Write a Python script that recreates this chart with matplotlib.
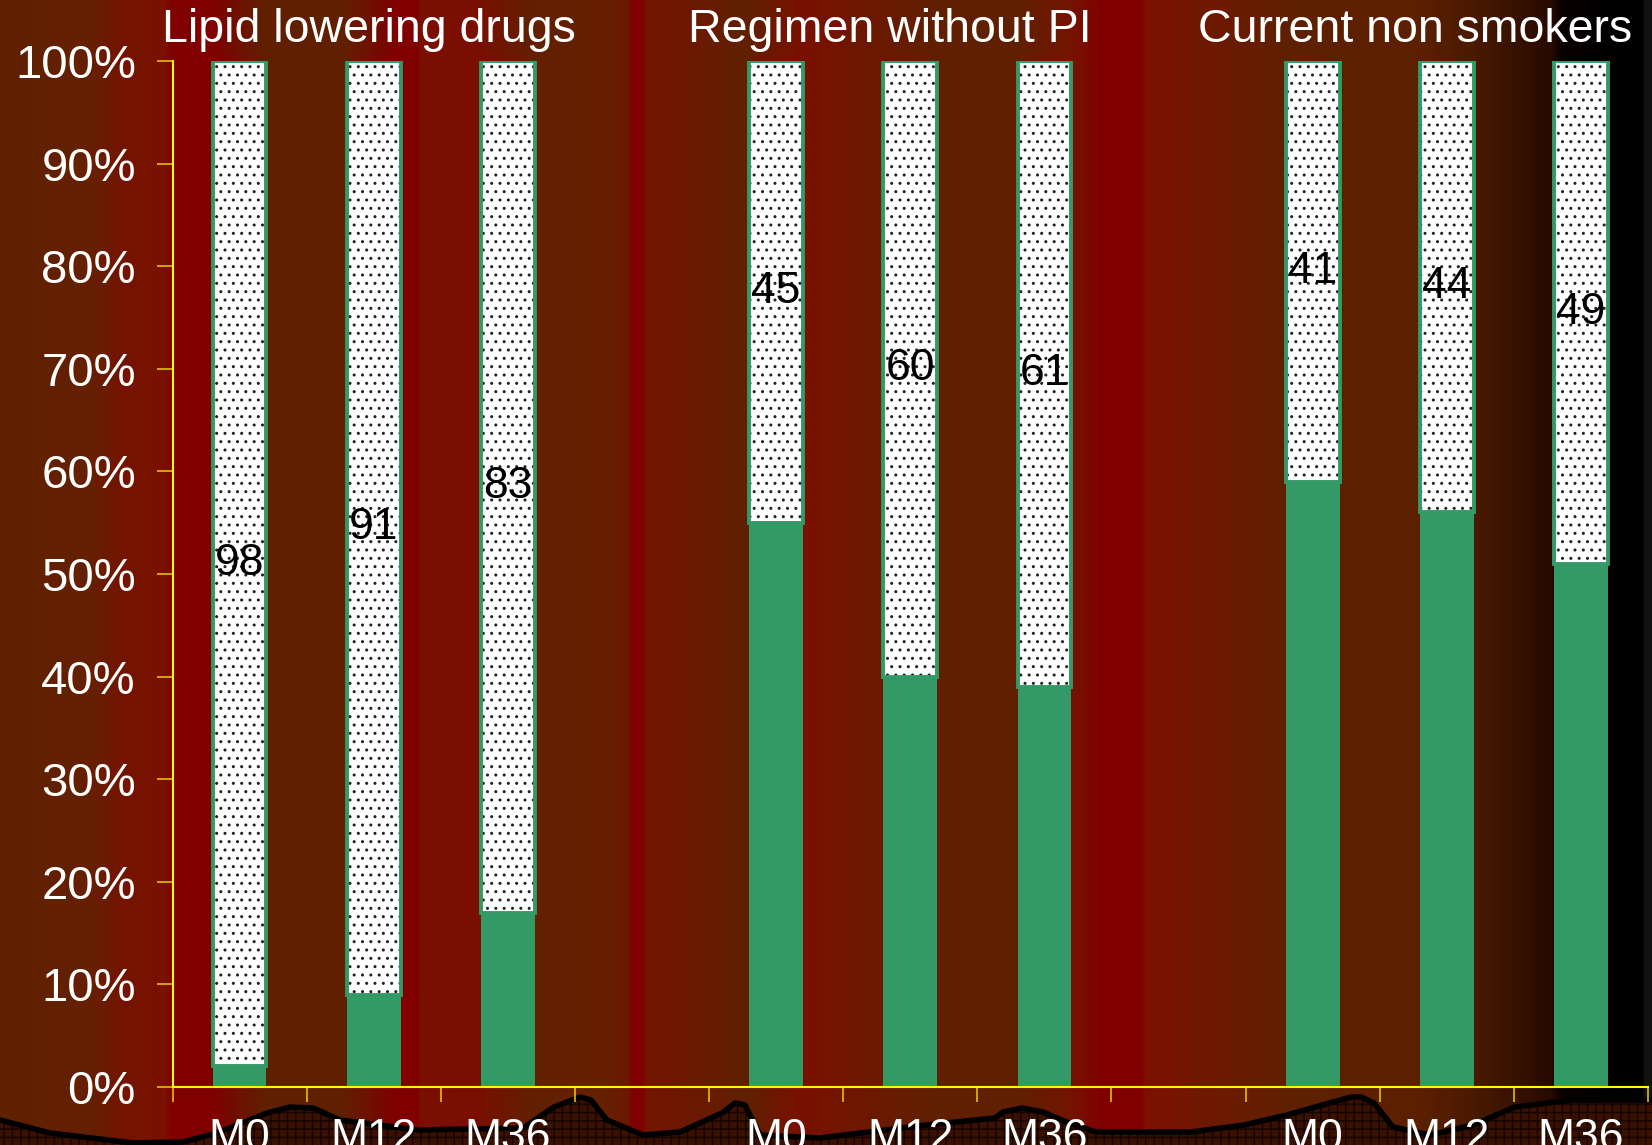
import numpy as np
import matplotlib
matplotlib.use("Agg")
import matplotlib.pyplot as plt
from matplotlib.colors import to_rgb
import matplotlib.transforms as mtransforms

plt.rcParams['font.family'] = ['Liberation Sans', 'DejaVu Sans']
plt.rcParams['hatch.linewidth'] = 1.0

# Data: three panels, each followed at M0, M12 and M36
groups = ["Lipid lowering drugs", "Regimen without PI", "Current non smokers"]
visits = ["M0", "M12", "M36"]
# dotted (upper) share, written on the bars
upper_pct = [98, 91, 83, 45, 60, 61, 41, 44, 49]
# solid green (lower) share
lower_pct = [2, 9, 17, 55, 40, 39, 59, 56, 51]

GREEN = "#339966"
AXIS_YELLOW = "#ffff00"
TICK_GOLD = "#e0c000"

# slide background: vertical colour bands (x in px from left)
BANDS = [
    (0, "#5f2000"), (90, "#652000"), (122, "#741400"), (165, "#7a1000"),
    (172, "#800000"), (212, "#800000"), (265, "#602000"), (344, "#602000"),
    (397, "#800000"), (418, "#800000"), (420, "#7a0e00"), (476, "#7a0e00"),
    (535, "#622000"), (600, "#662000"), (628, "#6c1800"), (632, "#800000"),
    (643, "#800000"), (646, "#741400"), (700, "#6a1a00"), (746, "#602000"),
    (803, "#7a1000"), (880, "#6a1a00"), (936, "#602000"), (1015, "#602000"),
    (1070, "#741400"), (1097, "#7e0400"), (1100, "#800000"), (1142, "#800000"),
    (1145, "#7e1000"), (1200, "#701800"), (1282, "#602000"), (1341, "#5c2000"),
    (1418, "#5c2000"), (1473, "#4a1a00"), (1551, "#280a00"), (1562, "#0a0000"),
    (1607, "#000000"), (1643, "#000000"), (1644, "#111111"), (1652, "#111111"),
]

# hill silhouette along the bottom edge (x, y from top, px)
HILL = [
    (0, 1120), (50, 1133), (133, 1143), (183, 1142), (217, 1133), (267, 1113),
    (290, 1107), (313, 1108), (340, 1120), (418, 1130), (523, 1128), (554, 1107),
    (580, 1097), (591, 1100), (607, 1120), (643, 1135), (680, 1132), (722, 1113),
    (735, 1103), (745, 1105), (760, 1135), (820, 1138), (926, 1125), (995, 1118),
    (1003, 1112), (1022, 1108), (1043, 1112), (1069, 1123), (1096, 1132),
    (1191, 1132), (1244, 1125), (1287, 1115), (1351, 1097), (1361, 1097),
    (1374, 1103), (1393, 1127), (1430, 1135), (1473, 1125), (1515, 1107),
    (1573, 1100), (1652, 1100),
]

W, H = 1652, 1145
fig = plt.figure(figsize=(W / 100, H / 100), dpi=100)

# background layer
bg = fig.add_axes([0, 0, 1, 1])
bg.set_axis_off()
xs = np.arange(W) + 0.5
bx = [b[0] for b in BANDS]
cols = np.array([to_rgb(b[1]) for b in BANDS])
strip = np.stack([np.interp(xs, bx, cols[:, k]) for k in range(3)], axis=-1)
bg.imshow(strip[np.newaxis, :, :], aspect="auto", extent=(0, W, 0, H),
          interpolation="nearest")
hx = [p[0] for p in HILL]
hy = [H - p[1] for p in HILL]
bg.fill_between(hx, hy, -5, facecolor="#3a1000", edgecolor="#140400",
                hatch="++", linewidth=0)
bg.plot(hx, hy, color="black", lw=4, solid_capstyle="round",
        solid_joinstyle="round")
bg.set_xlim(0, W)
bg.set_ylim(0, H)

# chart
ax = fig.add_axes([172.6 / W, 58 / H, 1475.4 / W, 1026 / H])
ax.patch.set_alpha(0)

pos = []
for g in range(len(groups)):
    for v in range(len(visits)):
        pos.append(g * (len(visits) + 1) + v)
pos = np.array(pos)
width = 0.4

ax.bar(pos, lower_pct, width, color=GREEN, linewidth=0, zorder=2)
ax.bar(pos, upper_pct, width, bottom=lower_pct, color="white",
       edgecolor="#222222", hatch="..", linewidth=0, zorder=2)
ax.bar(pos, upper_pct, width, bottom=lower_pct, fill=False,
       edgecolor=GREEN, linewidth=2.8, zorder=3)

for x, lo, up in zip(pos, lower_pct, upper_pct):
    ax.text(x, lo + up / 2, str(up), ha="center", va="center",
            fontsize=32, color="black", zorder=4)

ax.set_xlim(-0.5, pos[-1] + 0.5)
ax.set_ylim(0, 100)

ax.set_yticks(np.arange(0, 101, 10))
ax.set_yticklabels([f"{v}%" for v in range(0, 101, 10)])
ax.tick_params(axis="y", direction="out", length=11.5, width=1.2,
               color=TICK_GOLD, labelcolor="white", labelsize=34, pad=15)

ax.set_xticks(pos)
ax.set_xticklabels(visits * len(groups))
ax.set_xticks(np.arange(-0.5, pos[-1] + 1, 1.0), minor=True)
ax.tick_params(axis="x", which="major", length=0, labelcolor="white",
               labelsize=32, pad=22)
ax.tick_params(axis="x", which="minor", direction="out", length=11,
               width=1.2, color=TICK_GOLD)

for side in ("top", "right"):
    ax.spines[side].set_visible(False)
for side in ("left", "bottom"):
    ax.spines[side].set_color(AXIS_YELLOW)
    ax.spines[side].set_linewidth(1.5)

# panel titles above each group
trans = mtransforms.blended_transform_factory(ax.transData, fig.transFigure)
title_x = [0.965, 4.85, 8.76]
for gx, name in zip(title_x, groups):
    ax.text(gx, 1 - 29.5 / H, name, transform=trans, ha="center",
            va="center", fontsize=33.5, color="white", clip_on=False)

fig.savefig("out.png", dpi=100)
